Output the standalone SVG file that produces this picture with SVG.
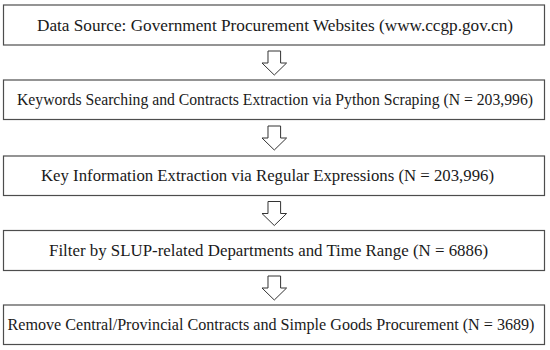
<svg xmlns="http://www.w3.org/2000/svg" width="550" height="350" viewBox="0 0 550 350">
<defs>
<style>
.box{fill:#ffffff;stroke:#4d4d4d;stroke-width:1.2}
.arr{fill:#ffffff;stroke:#333333;stroke-width:1}
.t{font-family:"Liberation Serif","Times New Roman",serif;font-size:16px;fill:#1a1a1a}
</style>
<path id="arrow" class="arr" d="M-6.3,0 H6.3 V12 H12.3 L0,24 L-12.3,12 H-6.3 Z"/>
</defs>
<rect width="550" height="350" fill="#ffffff"/>
<g id="n1"><rect class="box" x="3.5" y="5" width="541" height="40"/><text class="t" x="37" y="31" textLength="476" lengthAdjust="spacingAndGlyphs">Data Source: Government Procurement Websites (www.ccgp.gov.cn)</text></g>
<g id="n2"><rect class="box" x="3.5" y="80" width="541" height="39.5"/><text class="t" x="17" y="104.5" textLength="516" lengthAdjust="spacingAndGlyphs">Keywords Searching and Contracts Extraction via Python Scraping (N = 203,996)</text></g>
<g id="n3"><rect class="box" x="3.5" y="156" width="541" height="39.5"/><text class="t" x="41" y="180.5" textLength="453" lengthAdjust="spacingAndGlyphs">Key Information Extraction via Regular Expressions (N = 203,996)</text></g>
<g id="n4"><rect class="box" x="3.5" y="230.5" width="541" height="40"/><text class="t" x="49" y="256" textLength="439" lengthAdjust="spacingAndGlyphs">Filter by SLUP-related Departments and Time Range (N = 6886)</text></g>
<g id="n5"><rect class="box" x="3.5" y="305" width="541" height="39.5"/><text class="t" x="7.5" y="330" textLength="527" lengthAdjust="spacingAndGlyphs">Remove Central/Provincial Contracts and Simple Goods Procurement (N = 3689)</text></g>
<g id="connectors">
<use href="#arrow" x="274.3" y="51"/>
<use href="#arrow" x="274.3" y="126"/>
<use href="#arrow" x="274.3" y="201.5"/>
<use href="#arrow" x="274.3" y="276"/>
</g>
</svg>
